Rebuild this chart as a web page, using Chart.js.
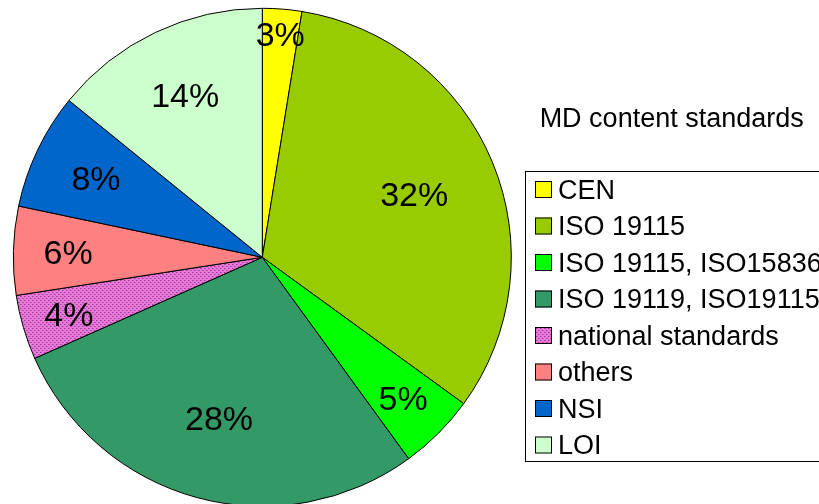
<!DOCTYPE html>
<html>
<head>
<meta charset="utf-8">
<script src="https://cdn.jsdelivr.net/npm/chart.js@4"></script>
<style>
  html, body { margin: 0; padding: 0; background: #ffffff; overflow: hidden; }
  #wrap { width: 819px; height: 504px; position: relative; }
</style>
</head>
<body>
<div id="wrap"><canvas id="c" width="819" height="504"></canvas></div>
<script>
const chartTitle = "MD content standards";
const categories = [
  "CEN",
  "ISO 19115",
  "ISO 19115, ISO15836",
  "ISO 19119, ISO19115",
  "national standards",
  "others",
  "NSI",
  "LOI"
];
const shares = [2.55, 32.45, 5.0, 28.35, 4.2, 5.75, 7.55, 14.15];

const sliceColors = ["#FFFF00", "#99CC00", "#00FF00", "#339966", null, "#FF8080", "#0066CC", "#CCFFCC"];
const labelRadius = [0.90, 0.66, 0.80, 0.67, 0.81, 0.78, 0.74, 0.72];

function dotPattern(ctx) {
  const p = document.createElement("canvas");
  p.width = 4; p.height = 4;
  const g = p.getContext("2d");
  g.fillStyle = "#E87AD8";
  g.fillRect(0, 0, 4, 4);
  g.fillStyle = "#9E3A9E";
  g.fillRect(0, 0, 1, 1);
  g.fillRect(2, 2, 1, 1);
  g.fillStyle = "#C257BE";
  g.fillRect(1, 0, 1, 1);
  g.fillRect(3, 2, 1, 1);
  return ctx.createPattern(p, "repeat");
}

const canvas = document.getElementById("c");
const ctx = canvas.getContext("2d");
const pattern = dotPattern(ctx);
const colors = sliceColors.map(c => c === null ? pattern : c);

const FONT = "'Liberation Sans', Arial, Helvetica, sans-serif";

const decorPlugin = {
  id: "decor",
  afterDatasetsDraw(chart) {
    const c = chart.ctx;
    const meta = chart.getDatasetMeta(0);
    const vals = chart.data.datasets[0].data;
    const total = vals.reduce((a, b) => a + b, 0);
    c.save();
    // slice labels
    const fs = 34;
    c.font = fs + "px " + FONT;
    c.fillStyle = "#000000";
    c.textAlign = "center";
    c.textBaseline = "alphabetic";
    meta.data.forEach((arc, i) => {
      const p = arc.getProps(["x", "y", "startAngle", "endAngle", "outerRadius"], true);
      const mid = (p.startAngle + p.endAngle) / 2;
      const r = p.outerRadius * labelRadius[i];
      const x = p.x + Math.cos(mid) * r;
      const y = p.y + Math.sin(mid) * r;
      const pct = Math.round(vals[i] * 100 / total);
      c.fillText(pct + "%", x, y + fs * 0.345);
    });
    // title
    c.font = "27px " + FONT;
    c.fillText(chartTitle, 671.7, 126.7);
    // legend box
    c.strokeStyle = "#000000";
    c.lineWidth = 1;
    c.strokeRect(525.5, 171.5, 330, 290);
    c.textAlign = "left";
    c.font = "27px " + FONT;
    const bg = chart.data.datasets[0].backgroundColor;
    chart.data.labels.forEach((lab, i) => {
      const top = 181 + 36.5 * i;
      c.fillStyle = bg[i];
      c.fillRect(535, top, 17, 17);
      c.strokeStyle = "#000000";
      c.strokeRect(535.5, top + 0.5, 16, 16);
      c.fillStyle = "#000000";
      c.fillText(lab, 558, top + 17.5);
    });
    c.restore();
  }
};

new Chart(ctx, {
  type: "pie",
  data: {
    labels: categories,
    datasets: [{
      data: shares,
      backgroundColor: colors,
      borderColor: "#000000",
      borderWidth: 1,
      radius: 249
    }]
  },
  options: {
    responsive: false,
    animation: false,
    layout: { padding: { left: 0, right: 294.4, top: 10.6, bottom: 0 } },
    plugins: {
      legend: { display: false },
      tooltip: { enabled: false },
      title: { display: false }
    }
  },
  plugins: [decorPlugin]
});
</script>
</body>
</html>
